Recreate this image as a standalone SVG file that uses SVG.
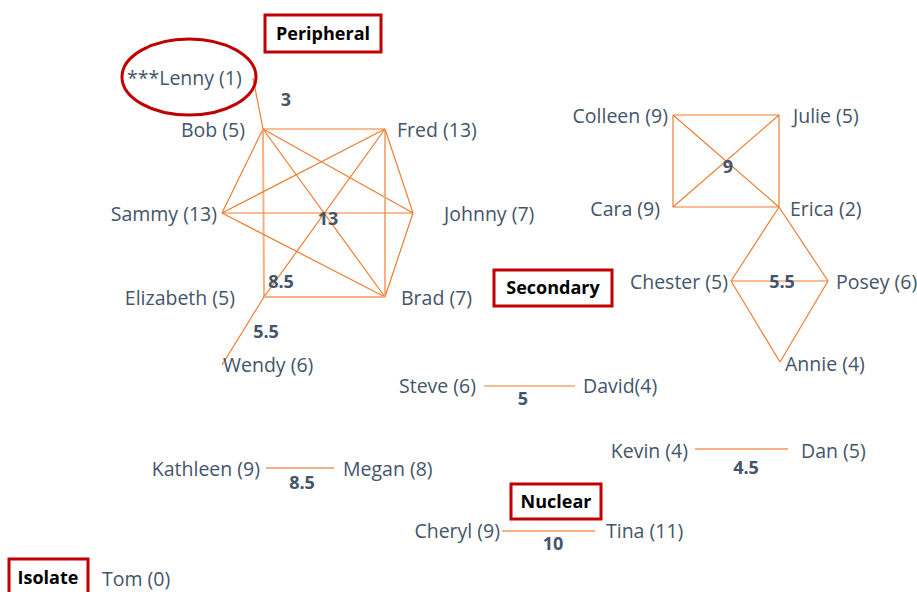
<svg xmlns="http://www.w3.org/2000/svg" width="917" height="592" viewBox="0 0 917 592">
<style>
.n{font-family:"Open Sans","Liberation Sans",sans-serif;font-size:19.5px;fill:#44546A}
.e{text-anchor:end}
.w{font-family:"Open Sans","Liberation Sans",sans-serif;font-size:18px;font-weight:bold;fill:#44546A;text-anchor:middle}
.b{fill:#fff;stroke:#C00000;stroke-width:3}
.bt{font-family:"Open Sans","Liberation Sans",sans-serif;font-size:18px;font-weight:bold;fill:#000;text-anchor:middle}
.l{stroke:#ED7D31;stroke-width:1.2;fill:none}
.l2{stroke:#F4B183;stroke-width:2;fill:none}
</style>
<rect width="917" height="592" fill="#fff"/>
<g id="connectors">
<line class="l" x1="253" y1="78" x2="263" y2="129"/>
<line class="l" x1="263" y1="129" x2="385" y2="129"/>
<line class="l" x1="263" y1="129" x2="222" y2="213"/>
<line class="l2" x1="263" y1="129" x2="264" y2="297" stroke-width="1.5"/>
<line class="l" x1="263" y1="129" x2="385" y2="297"/>
<line class="l" x1="263" y1="129" x2="413" y2="213"/>
<line class="l" x1="385" y1="129" x2="222" y2="213"/>
<line class="l" x1="385" y1="129" x2="264" y2="297"/>
<line class="l2" x1="385" y1="129" x2="385" y2="297" stroke-width="1.5"/>
<line class="l" x1="385" y1="129" x2="413" y2="213"/>
<line class="l" x1="222" y1="213" x2="413" y2="213"/>
<line class="l" x1="222" y1="213" x2="385" y2="297"/>
<line class="l" x1="413" y1="213" x2="385" y2="297"/>
<line class="l2" x1="264" y1="297" x2="385" y2="297" stroke-width="1.5"/>
<line class="l" x1="264" y1="297" x2="222" y2="365"/>
<line class="l" x1="673" y1="115" x2="779" y2="115"/>
<line class="l" x1="673" y1="115" x2="673" y2="207"/>
<line class="l" x1="779" y1="115" x2="779" y2="207"/>
<line class="l" x1="673" y1="207" x2="779" y2="207"/>
<line class="l" x1="673" y1="115" x2="779" y2="207"/>
<line class="l" x1="779" y1="115" x2="673" y2="207"/>
<line class="l" x1="779" y1="207" x2="731" y2="281"/>
<line class="l" x1="779" y1="207" x2="828" y2="281"/>
<line class="l" x1="731" y1="281" x2="828" y2="281"/>
<line class="l" x1="731" y1="281" x2="780" y2="362"/>
<line class="l" x1="828" y1="281" x2="780" y2="362"/>
<line class="l" x1="484" y1="386" x2="575" y2="386"/>
<line class="l2" x1="266" y1="468" x2="334" y2="468"/>
<line class="l2" x1="695" y1="449" x2="788" y2="449"/>
<line class="l2" x1="502" y1="531" x2="595" y2="531"/>
</g>
<g id="weights">
<text class="w" x="286" y="106">3</text>
<text class="w" x="328" y="225">13</text>
<text class="w" x="281" y="288">8.5</text>
<text class="w" x="266" y="338">5.5</text>
<text class="w" x="728" y="173">9</text>
<text class="w" x="782" y="288">5.5</text>
<text class="w" x="523" y="405">5</text>
<text class="w" x="302" y="489">8.5</text>
<text class="w" x="746" y="474">4.5</text>
<text class="w" x="553" y="550">10</text>
</g>
<g id="lenny"><ellipse cx="189" cy="77" rx="67" ry="38" fill="none" stroke="#C00000" stroke-width="3"/><text class="n" x="127" y="85">***Lenny (1)</text></g>
<g id="bob"><text class="n e" x="245" y="137">Bob (5)</text></g>
<g id="fred"><text class="n" x="397" y="137">Fred (13)</text></g>
<g id="sammy"><text class="n e" x="217" y="221">Sammy (13)</text></g>
<g id="johnny"><text class="n" x="444" y="221">Johnny (7)</text></g>
<g id="elizabeth"><text class="n e" x="235" y="305">Elizabeth (5)</text></g>
<g id="brad"><text class="n" x="401" y="305">Brad (7)</text></g>
<g id="wendy"><text class="n" x="223" y="372">Wendy (6)</text></g>
<g id="colleen"><text class="n e" x="668" y="123">Colleen (9)</text></g>
<g id="julie"><text class="n" x="793" y="123">Julie (5)</text></g>
<g id="cara"><text class="n e" x="660" y="216">Cara (9)</text></g>
<g id="erica"><text class="n" x="790" y="216">Erica (2)</text></g>
<g id="chester"><text class="n e" x="728" y="289">Chester (5)</text></g>
<g id="posey"><text class="n" x="836" y="289">Posey (6)</text></g>
<g id="annie"><text class="n" x="785" y="371">Annie (4)</text></g>
<g id="steve"><text class="n e" x="476" y="393">Steve (6)</text></g>
<g id="david"><text class="n" x="583" y="393">David(4)</text></g>
<g id="kathleen"><text class="n e" x="260" y="476">Kathleen (9)</text></g>
<g id="megan"><text class="n" x="343" y="476">Megan (8)</text></g>
<g id="kevin"><text class="n e" x="688" y="458">Kevin (4)</text></g>
<g id="dan"><text class="n" x="801" y="458">Dan (5)</text></g>
<g id="cheryl"><text class="n e" x="500" y="538">Cheryl (9)</text></g>
<g id="tina"><text class="n" x="606" y="538">Tina (11)</text></g>
<g id="tom"><text class="n" x="102" y="586">Tom (0)</text></g>
<g id="peripheral"><rect class="b" x="265" y="15" width="116" height="37"/><text class="bt" x="323" y="40">Peripheral</text></g>
<g id="secondary"><rect class="b" x="494" y="270" width="118" height="36"/><text class="bt" x="553" y="294">Secondary</text></g>
<g id="nuclear"><rect class="b" x="511" y="484" width="90" height="35"/><text class="bt" x="556" y="508">Nuclear</text></g>
<g id="isolate"><rect class="b" x="9" y="559" width="79" height="36"/><text class="bt" x="48" y="584">Isolate</text></g>
</svg>
